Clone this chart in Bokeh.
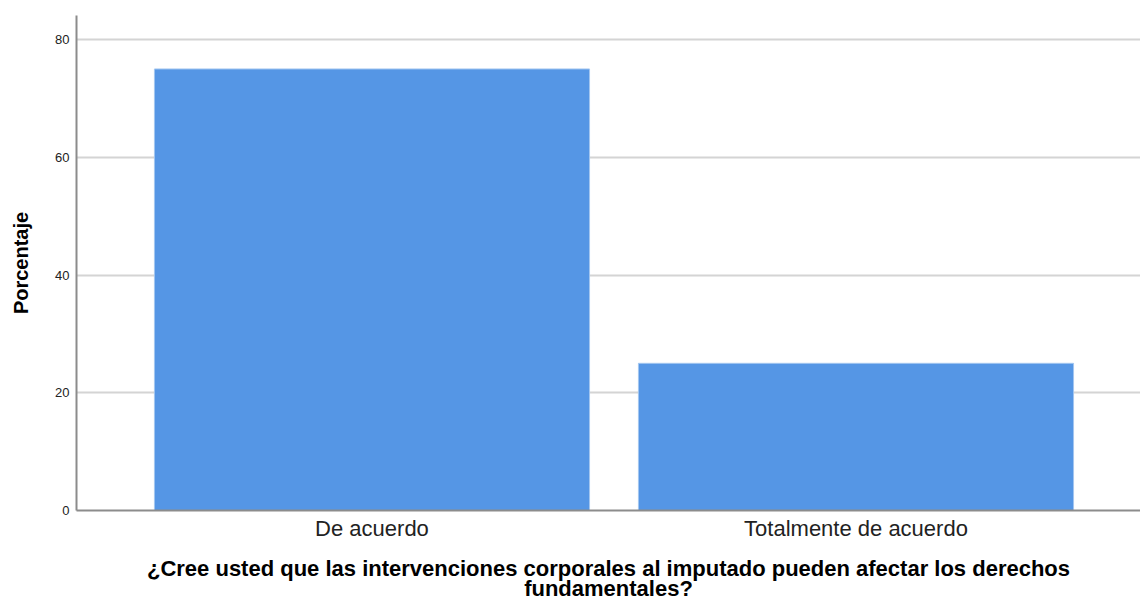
from bokeh.plotting import figure
from bokeh.models import Range1d, FixedTicker
from bokeh.embed import file_html
from bokeh.resources import INLINE

categories = ["De acuerdo", "Totalmente de acuerdo"]
percentages = [75.0, 25.0]
y_ticks = [0, 20, 40, 60, 80]
x_title = "¿Cree usted que las intervenciones corporales al imputado pueden afectar los derechos\nfundamentales?"
y_title = "Porcentaje"

xs = [i + 1 for i in range(len(categories))]

p = figure(width=1140, height=603, output_backend="svg", toolbar_location=None,
           x_range=Range1d(0.3895, 2.5878), y_range=Range1d(0, 84.08),
           min_border_left=76, min_border_right=0, min_border_top=15, min_border_bottom=93)
p.outline_line_color = None
p.background_fill_color = "white"
p.border_fill_color = "white"

p.vbar(x=xs, top=percentages, width=0.899, bottom=0,
       fill_color="#5596E5", line_color="#a3c6f0", line_width=1)

p.xaxis.ticker = FixedTicker(ticks=xs)
p.xaxis.major_label_overrides = {x: c for x, c in zip(xs, categories)}
p.yaxis.ticker = FixedTicker(ticks=y_ticks)

for ax in (p.xaxis[0], p.yaxis[0]):
    ax.axis_line_color = "#8c8c8c"
    ax.axis_line_width = 2
    ax.major_tick_out = 0
    ax.major_tick_in = 0
    ax.minor_tick_out = 0
    ax.minor_tick_in = 0
    ax.major_label_text_font = "Liberation Sans"
    ax.axis_label_text_font = "Liberation Sans"
    ax.axis_label_text_font_style = "bold"
    ax.axis_label_text_color = "#000000"

p.xaxis.major_label_text_font_size = "22px"
p.xaxis.major_label_text_color = "#222222"
p.xaxis.major_label_standoff = 5
p.xaxis.axis_label = x_title
p.xaxis.axis_label_text_font_size = "22px"
p.xaxis.axis_label_text_line_height = 0.8
p.xaxis.axis_label_standoff = 12

p.yaxis.major_label_text_font_size = "13px"
p.yaxis.major_label_text_color = "#222222"
p.yaxis.major_label_standoff = 7
p.yaxis.axis_label = y_title
p.yaxis.axis_label_text_font_size = "20px"
p.yaxis.axis_label_standoff = 20

p.xgrid.grid_line_color = None
p.ygrid.ticker = FixedTicker(ticks=y_ticks[1:])
p.ygrid.grid_line_color = "#d4d4d4"
p.ygrid.grid_line_width = 2

open("out.html", "w").write(file_html(p, INLINE))
